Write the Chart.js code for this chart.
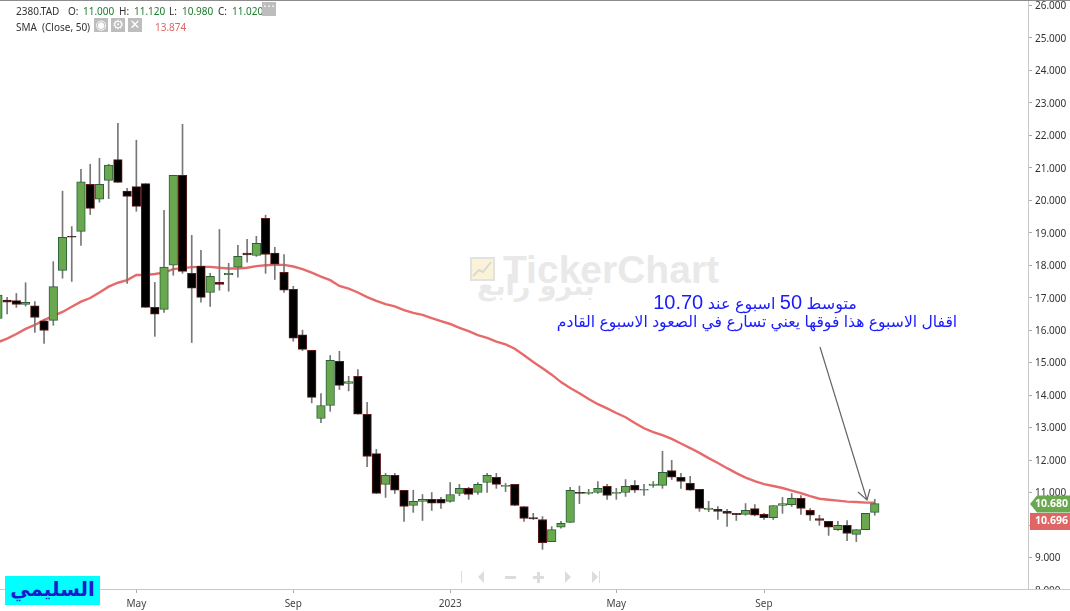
<!DOCTYPE html>
<html>
<head>
<meta charset="utf-8">
<title>2380.TAD</title>
<script src="https://cdn.jsdelivr.net/npm/chart.js@4"></script>
<style>
    html, body { margin: 0; padding: 0; background: #fff; width: 1070px; height: 611px; overflow: hidden; }
    body { position: relative; font-family: "Noto Sans", sans-serif; }
    #box { position: absolute; left: 0; top: 0; width: 1070px; height: 611px; }
    .abs { position: absolute; white-space: nowrap; }
    .hd { font-size: 10px; line-height: 14px; color: #333; }
    .gr { color: #1d7a2e; }
    .btn { background: #bdbdbd; color: #fff; width: 14px; height: 14px; text-align: center; font: 13px/14px "DejaVu Sans"; }
    .note { color: #1a1aff; font-family: "Liberation Sans", "DejaVu Sans", sans-serif; direction: rtl; transform: translateX(-50%); }
    .num { font-size: 20px; }
</style>
</head>
<body>
<!-- watermark sits behind the chart -->
<div class="abs" style="left:503px;top:248px;font:bold 39px/44px 'Liberation Sans';color:#e9e9e9">TickerChart</div>
<div class="abs" style="left:477px;top:270px;font:bold 27px/32px 'DejaVu Sans';color:#e9e9e9;direction:rtl">بترو رابع</div>
<svg class="abs" style="left:470px;top:257px" width="25" height="24">
    <rect x="1" y="1" width="23" height="22" fill="#fbf3d8" stroke="#e2e2e2" stroke-width="2"/>
    <polyline points="3,19 9,13 13,15 21,5" fill="none" stroke="#d8d8d8" stroke-width="2"/>
</svg>

<div id="box"><canvas id="chart" width="1070" height="611"></canvas></div>

<div class="abs hd" style="left:16px;top:4px">2380.TAD</div>
<div class="abs hd" style="left:68px;top:4px">O:</div><div class="abs hd gr" style="left:83px;top:4px">11.000</div>
<div class="abs hd" style="left:119px;top:4px">H:</div><div class="abs hd gr" style="left:134px;top:4px">11.120</div>
<div class="abs hd" style="left:169px;top:4px">L:</div><div class="abs hd gr" style="left:182px;top:4px">10.980</div>
<div class="abs hd" style="left:218px;top:4px">C:</div><div class="abs hd gr" style="left:232px;top:4px">11.020</div>
<div class="abs btn" style="left:262px;top:2px;line-height:10px">···</div>
<div class="abs hd" style="left:16px;top:20px">SMA</div>
<div class="abs hd" style="left:42px;top:20px">(Close, 50)</div>
<div class="abs btn" style="left:94px;top:18px">◉</div>
<div class="abs btn" style="left:111px;top:18px">⚙</div>
<div class="abs btn" style="left:128px;top:18px">✕</div>
<div class="abs hd" style="left:155px;top:20px;color:#e06666">13.874</div>

<div class="abs note" style="left:755px;top:291px;font-size:16px;line-height:22px">متوسط <span class="num">50</span> اسبوع عند <span class="num">10.70</span></div>
<div class="abs note" style="left:757px;top:311px;font-size:15.6px;line-height:22px">اقفال الاسبوع هذا فوقها يعني تسارع في الصعود الاسبوع القادم</div>

<div class="abs" style="left:5px;top:576px;width:95px;height:29px;background:#00ffff;color:#1a1ad0;text-align:center;font:bold 20px/26px 'DejaVu Sans';direction:rtl">السليمي</div>

<script>
// Weekly candles
const opens = [16.36, 16.93, 16.91, 16.79, 16.75, 16.29, 16.30, 17.84, 18.89, 19.04, 20.49, 20.03, 20.61, 21.25, 20.28, 20.42,
    20.51, 16.70, 16.64, 18.00, 20.77, 17.75, 17.97, 17.16, 17.47, 17.71, 17.94, 18.37, 18.30, 19.44, 18.37, 17.78,
    17.26, 15.86, 15.38, 13.28, 13.68, 15.04, 14.36, 14.58, 13.41, 12.20, 11.25, 11.53, 11.07, 10.60, 10.73, 10.79,
    10.79, 10.73, 10.97, 11.13, 11.00, 11.31, 11.47, 11.19, 11.25, 10.57, 10.23, 10.17, 9.49, 9.93, 10.08, 11.01,
    10.97, 11.00, 11.19, 10.97, 11.00, 11.22, 11.07, 11.22, 11.22, 11.68, 11.47, 11.28, 11.10, 10.48, 10.48, 10.42,
    10.36, 10.33, 10.51, 10.33, 10.23, 10.60, 10.63, 10.82, 10.45, 10.20, 10.11, 9.86, 9.99, 9.71, 9.86, 10.39];
const highs = [17.20, 17.01, 17.13, 17.46, 16.88, 16.33, 18.11, 20.28, 19.19, 20.95, 21.11, 21.29, 21.11, 22.37, 20.37, 21.85,
    20.51, 17.47, 19.69, 20.77, 22.34, 18.92, 18.46, 17.75, 19.10, 18.06, 18.61, 18.80, 18.89, 19.54, 18.55, 18.33,
    17.35, 16.00, 15.38, 14.05, 15.22, 15.35, 14.58, 14.79, 13.78, 12.33, 11.59, 11.59, 11.07, 11.07, 10.94, 11.00,
    10.85, 11.31, 11.25, 11.16, 11.31, 11.59, 11.59, 11.28, 11.25, 10.57, 10.36, 10.26, 9.95, 10.11, 11.16, 11.20,
    11.10, 11.34, 11.25, 11.13, 11.40, 11.37, 11.25, 11.34, 12.27, 11.99, 11.59, 11.50, 11.10, 10.73, 10.57, 10.48,
    10.36, 10.66, 10.63, 10.36, 10.60, 10.85, 10.97, 10.91, 10.51, 10.30, 10.11, 10.11, 10.14, 9.86, 10.36, 10.79];
const lows = [16.30, 16.50, 16.70, 16.74, 15.93, 15.59, 16.15, 17.60, 17.50, 18.61, 19.56, 19.94, 20.05, 20.55, 17.44, 19.66,
    16.70, 15.81, 16.55, 17.69, 17.75, 15.62, 16.86, 16.73, 17.23, 17.20, 17.63, 18.09, 18.27, 17.75, 17.56, 17.16,
    15.66, 15.37, 13.76, 13.15, 13.50, 14.17, 14.13, 13.41, 11.80, 10.97, 10.85, 10.97, 10.11, 10.39, 10.14, 10.45,
    10.51, 10.70, 10.90, 10.79, 10.94, 11.00, 11.13, 11.03, 10.60, 10.11, 10.17, 9.25, 9.49, 9.90, 10.08, 10.66,
    10.94, 10.97, 10.79, 10.79, 10.88, 11.00, 10.91, 11.16, 11.13, 11.40, 11.13, 11.07, 10.42, 10.41, 10.17, 9.96,
    10.14, 10.30, 10.28, 10.17, 10.17, 10.36, 10.57, 10.33, 10.14, 9.99, 9.68, 9.83, 9.52, 9.49, 9.86, 10.30];
const closes = [17.08, 16.86, 16.79, 16.86, 16.39, 15.99, 17.34, 18.86, 18.86, 20.57, 19.75, 20.49, 21.08, 20.55, 20.12, 19.81,
    16.70, 16.49, 17.94, 20.77, 17.81, 17.29, 17.01, 17.66, 17.41, 17.75, 18.27, 18.32, 18.67, 18.33, 18.03, 17.23,
    15.75, 15.41, 13.93, 13.68, 15.07, 14.30, 14.42, 13.41, 12.11, 10.97, 11.53, 11.07, 10.57, 10.73, 10.79, 10.67,
    10.67, 10.94, 11.13, 10.94, 11.25, 11.53, 11.25, 11.22, 10.60, 10.20, 10.19, 9.46, 9.86, 10.05, 11.07, 10.97,
    11.01, 11.13, 10.91, 11.01, 11.19, 11.07, 11.10, 11.26, 11.62, 11.47, 11.34, 11.07, 10.51, 10.52, 10.42, 10.36,
    10.32, 10.45, 10.30, 10.23, 10.60, 10.66, 10.82, 10.51, 10.30, 10.14, 9.93, 9.99, 9.74, 9.86, 10.36, 10.66];
const sma50 = [15.63, 15.74, 15.88, 16.04, 16.16, 16.31, 16.44, 16.56, 16.72, 16.88, 16.99, 17.16, 17.34, 17.46, 17.54, 17.70,
    17.70, 17.73, 17.77, 17.88, 17.91, 17.94, 17.95, 17.95, 17.92, 17.90, 17.90, 17.92, 17.97, 18.00, 18.01, 18.01,
    17.96, 17.88, 17.77, 17.65, 17.54, 17.36, 17.28, 17.16, 17.02, 16.90, 16.80, 16.73, 16.62, 16.53, 16.47, 16.37,
    16.28, 16.19, 16.07, 15.97, 15.85, 15.76, 15.65, 15.56, 15.43, 15.23, 15.02, 14.83, 14.63, 14.40, 14.22, 14.06,
    13.88, 13.72, 13.59, 13.45, 13.32, 13.14, 12.98, 12.86, 12.77, 12.65, 12.51, 12.37, 12.22, 12.06, 11.91, 11.75,
    11.60, 11.46, 11.35, 11.26, 11.20, 11.14, 11.06, 10.98, 10.89, 10.81, 10.78, 10.75, 10.72, 10.71, 10.69, 10.69];

const priceTicks = [8, 9, 10, 11, 12, 13, 14, 15, 16, 17, 18, 19, 20, 21, 22, 23, 24, 25, 26];
const dateTickWeeks = [15, 32, 49, 67, 83];
const dateTickLabels = ['May', 'Sep', '2023', 'May', 'Sep'];
const lastPriceLabel = '10.680';
const lastSmaLabel = '10.696';

const upFill = '#6aa84f', upBorder = '#2a5f3a', downFill = '#000000', downBorder = '#5e1a1a';
const isUp = closes.map((c, i) => c >= opens[i]);

// Everything that is not a candle: frame, badges, arrow, little toolbar
const extras = {
    id: 'extras',
    afterDraw(chart) {
        const ctx = chart.ctx, area = chart.chartArea, y = chart.scales.y;
        ctx.save();

        // the 8.000 label is cut by the time axis
        ctx.fillStyle = '#fff';
        ctx.fillRect(area.right + 1, area.bottom, 42, 8);
        ctx.fillStyle = '#c8c8c8';
        ctx.fillRect(0, area.bottom, 1070, 1);
        ctx.fillStyle = '#8c8c8c';
        ctx.fillRect(0, 0, 1070, 1);

        // arrow to the last candle
        ctx.strokeStyle = '#666';
        ctx.lineWidth = 1.2;
        ctx.beginPath();
        ctx.moveTo(820, 347); ctx.lineTo(867, 500);
        ctx.moveTo(858, 492); ctx.lineTo(867, 500); ctx.lineTo(870, 489);
        ctx.stroke();

        // price badges on the axis
        const py = Math.round(y.getPixelForValue(closes[closes.length - 1]));
        ctx.fillStyle = upFill;
        ctx.beginPath();
        ctx.moveTo(1030, py);
        ctx.lineTo(1037, py - 8.5); ctx.lineTo(1070, py - 8.5); ctx.lineTo(1070, py + 8.5); ctx.lineTo(1037, py + 8.5);
        ctx.closePath();
        ctx.fill();
        ctx.fillStyle = '#e06666';
        ctx.fillRect(1030, py + 9, 40, 17);
        ctx.fillStyle = '#fff';
        ctx.font = 'bold 10.5px "Noto Sans"';
        ctx.textAlign = 'right';
        ctx.textBaseline = 'middle';
        ctx.fillText(lastPriceLabel, 1068, py);
        ctx.fillText(lastSmaLabel, 1068, py + 17.5);

        // navigation icons
        ctx.fillStyle = '#dcdcdc';
        const cy = 577;
        const tri = (x, dir) => {
            ctx.beginPath();
            ctx.moveTo(x, cy - 6); ctx.lineTo(x + dir * 6, cy); ctx.lineTo(x, cy + 6);
            ctx.closePath(); ctx.fill();
        };
        ctx.fillRect(461, cy - 6, 1, 12);
        tri(484, -1);
        ctx.fillRect(505, cy - 1, 11, 3);
        ctx.fillRect(533, cy - 1, 11, 3);
        ctx.fillRect(537, cy - 5, 3, 11);
        tri(565, 1);
        tri(592, 1);
        ctx.fillRect(599, cy - 6, 1, 12);

        ctx.restore();
    }
};

const ctx = document.getElementById('chart').getContext('2d');
new Chart(ctx, {
    type: 'bar',
    plugins: [extras],
    data: {
        datasets: [
            {
                type: 'line',
                label: 'SMA (Close, 50)',
                data: sma50.map((v, i) => ({ x: i, y: v })),
                borderColor: '#e66a6a',
                borderWidth: 2.4,
                pointRadius: 0,
                tension: 0,
                order: 3
            },
            {
                label: 'wick',
                data: highs.map((h, i) => ({ x: i, y: [lows[i], h] })),
                backgroundColor: '#777777',
                barThickness: 1,
                grouped: false,
                order: 2
            },
            {
                label: 'body',
                data: opens.map((o, i) => ({ x: i, y: [o, closes[i]] })),
                backgroundColor: isUp.map(u => u ? upFill : downFill),
                borderColor: isUp.map(u => u ? upBorder : downBorder),
                borderWidth: 1,
                borderSkipped: false,
                barThickness: 8.6,
                grouped: false,
                order: 1
            }
        ]
    },
    options: {
        responsive: false,
        animation: false,
        layout: { padding: 0 },
        plugins: { legend: { display: false }, tooltip: { enabled: false } },
        scales: {
            x: {
                type: 'linear',
                min: 0.2275,
                max: 111.6,
                offset: false,
                grid: { offset: false, drawOnChartArea: false, color: '#aaaaaa', tickLength: 4 },
                border: { color: '#c8c8c8' },
                ticks: {
                    autoSkip: false,
                    maxRotation: 0,
                    padding: 5,
                    color: '#444',
                    font: { family: 'Noto Sans', size: 10 },
                    callback: value => dateTickLabels[dateTickWeeks.indexOf(value)]
                },
                afterBuildTicks: scale => { scale.ticks = dateTickWeeks.map(v => ({ value: v })); },
                afterFit: scale => { scale.height = 22; scale.paddingLeft = 0; scale.paddingRight = 0; }
            },
            y: {
                position: 'right',
                min: 8.03,
                max: 26.166,
                grid: { drawOnChartArea: false, color: '#aaaaaa', tickLength: 4 },
                border: { color: '#c8c8c8' },
                ticks: {
                    autoSkip: false,
                    padding: 3,
                    labelOffset: 1,
                    color: '#333',
                    font: { family: 'Noto Sans', size: 10 },
                    callback: value => value.toFixed(3)
                },
                afterBuildTicks: scale => { scale.ticks = priceTicks.map(v => ({ value: v })); },
                afterFit: scale => { scale.width = 42; scale.paddingTop = 0; scale.paddingBottom = 0; }
            }
        }
    }
});
</script>
</body>
</html>
